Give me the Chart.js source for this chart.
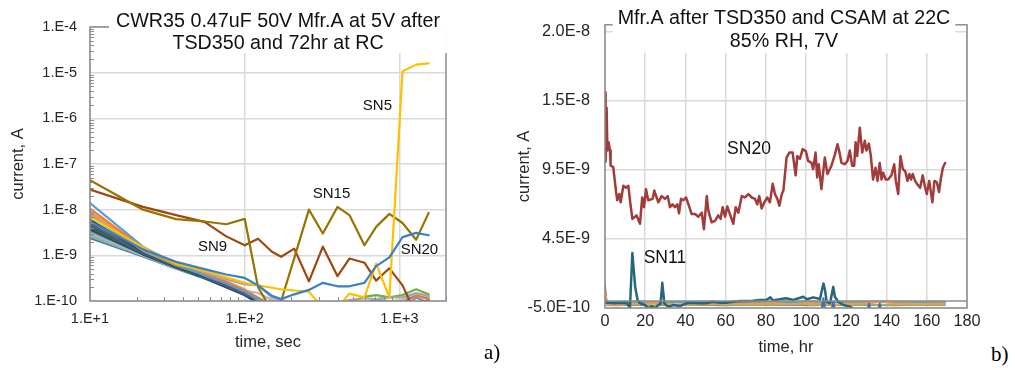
<!DOCTYPE html>
<html>
<head>
<meta charset="utf-8">
<script src="https://cdn.jsdelivr.net/npm/chart.js@4.4.0/dist/chart.umd.min.js"></script>
<style>
  body { margin: 0; background: #fff; }
  #wrap { position: relative; width: 1015px; height: 370px; overflow: hidden; }
  canvas { position: absolute; top: 0; }
  #c1 { left: 0; }
  #c2 { left: 500px; }
  .tag { position: absolute; font: 21px 'Liberation Serif', 'Times New Roman', serif; line-height: 1; color: #000; }
</style>
</head>
<body>
<div id="wrap">
  <canvas id="c1" width="470" height="370"></canvas>
  <canvas id="c2" width="490" height="370"></canvas>
  <div class="tag" style="left:484px; top:342px">a)</div>
  <div class="tag" style="left:991px; top:344px">b)</div>
</div>
<script>
"use strict";

// ---------- a) leakage at 5V, log-log ----------
const tSec = [10, 22, 36, 55, 76, 100, 122, 150, 172, 209, 260, 320, 398, 475, 594, 707, 861, 1047, 1282, 1545];

// anything under 1E-10 is below the axis and gets clipped
const sn5  = [7e-9, 1.5e-9, 6.5e-10, 4.6e-10, 3.3e-10, 2.5e-10, 2.2e-10, 1.95e-10, 1.8e-10, 1.7e-10, 1.6e-10, 7e-11, 7e-11, 1.45e-10, 1.2e-10, 6.6e-10, 1.2e-10, 1.07e-5, 1.5e-5, 1.6e-5];
const sn9  = [2.75e-8, 1.15e-8, 7.6e-9, 5.4e-9, 2.6e-9, 1.66e-9, 2.3e-9, 1.2e-9, 9.3e-10, 1.4e-9, 2.7e-10, 1.55e-9, 3.5e-10, 8.5e-10, 6.9e-10, 2.8e-10, 5.2e-10, 2.2e-10, 5e-11, 5e-11];
const sn15 = [4.4e-8, 1.0e-8, 6.2e-9, 5.5e-9, 4.8e-9, 6.3e-9, 2.0e-10, 6e-11, 1.0e-10, 8.7e-10, 1.0e-8, 3.0e-9, 1.15e-8, 7.6e-9, 1.66e-9, 4.2e-9, 8.1e-9, 5.1e-9, 2.2e-9, 8.5e-9];
const sn20 = [5.5e-9, 1.35e-9, 7.2e-10, 5e-10, 3.8e-10, 3.2e-10, 2.2e-10, 1.3e-10, 1.1e-10, 1.4e-10, 1.75e-10, 2.5e-10, 2.1e-10, 2.1e-10, 2.5e-10, 5.8e-10, 9e-10, 2.5e-9, 3.1e-9, 2.75e-9];

// the unlabelled parts in the bundle
const b1  = [1.4e-8, 1.55e-9, 6.5e-10, 3.6e-10, 2.4e-10, 1.6e-10, 1.1e-10, 8e-11, 6e-11, 6e-11, 6e-11, 6e-11, 6e-11, 6e-11, 6e-11, 6e-11, 6e-11, 6e-11, 6e-11, 6e-11];
const b2  = [1.05e-8, 1.45e-9, 6.2e-10, 3.8e-10, 2.6e-10, 1.7e-10, 1.2e-10, 8e-11, 6e-11, 6e-11, 6e-11, 6e-11, 6e-11, 6e-11, 6e-11, 6e-11, 6e-11, 6e-11, 1.3e-10, 1.1e-10];
const b3  = [9e-9, 1.4e-9, 6.3e-10, 3.9e-10, 2.7e-10, 1.8e-10, 1.15e-10, 7e-11, 6e-11, 6e-11, 6e-11, 6e-11, 6e-11, 6e-11, 6e-11, 6e-11, 6e-11, 6e-11, 6e-11, 6e-11];
const b4  = [8.2e-9, 1.3e-9, 6.3e-10, 4.2e-10, 3e-10, 2.3e-10, 2.2e-10, 1.2e-10, 1.05e-10, 9e-11, 8e-11, 8e-11, 9e-11, 1.05e-10, 1.15e-10, 1.1e-10, 1.2e-10, 1.2e-10, 1.5e-10, 1.3e-10];
const b5  = [7.5e-9, 1.25e-9, 6e-10, 3.7e-10, 2.6e-10, 1.7e-10, 1.05e-10, 6e-11, 6e-11, 6e-11, 6e-11, 7e-11, 8e-11, 9e-11, 1.25e-10, 1.35e-10, 1.2e-10, 1.35e-10, 1.8e-10, 1.4e-10];
const b6  = [6e-9, 1.2e-9, 5.8e-10, 3.5e-10, 2.3e-10, 1.6e-10, 1.1e-10, 7e-11, 6e-11, 6e-11, 6e-11, 6e-11, 6e-11, 6e-11, 6e-11, 6e-11, 6e-11, 6e-11, 9e-11, 1.03e-10];
const b7  = [5e-9, 1.15e-9, 5.8e-10, 3.4e-10, 2.2e-10, 1.5e-10, 1.05e-10, 7e-11, 6e-11, 6e-11, 6e-11, 6e-11, 6e-11, 6e-11, 6e-11, 6e-11, 6e-11, 6e-11, 6e-11, 6e-11];
const b8  = [4.5e-9, 1.1e-9, 5.6e-10, 3.3e-10, 2.1e-10, 1.4e-10, 1.0e-10, 6e-11, 6e-11, 6e-11, 6e-11, 6e-11, 6e-11, 6e-11, 6e-11, 6e-11, 6e-11, 6e-11, 6e-11, 6e-11];
const b9  = [4e-9, 1.1e-9, 5.5e-10, 3.2e-10, 2.1e-10, 1.45e-10, 1.1e-10, 7e-11, 6e-11, 6e-11, 6e-11, 6e-11, 6e-11, 6e-11, 6e-11, 6e-11, 6e-11, 6e-11, 6e-11, 6e-11];
const b10 = [3.7e-9, 1.05e-9, 5.4e-10, 3.2e-10, 2.0e-10, 1.35e-10, 9e-11, 6e-11, 6e-11, 6e-11, 6e-11, 6e-11, 6e-11, 6e-11, 6e-11, 6e-11, 6e-11, 6e-11, 8e-11, 1.02e-10];
const b11 = [3.4e-9, 1.05e-9, 5.4e-10, 3.3e-10, 2.2e-10, 1.5e-10, 1.0e-10, 7e-11, 6e-11, 6e-11, 6e-11, 6e-11, 6e-11, 6e-11, 6e-11, 6e-11, 6e-11, 6e-11, 1.2e-10, 9e-11];
const b12 = [3.1e-9, 1.0e-9, 5.3e-10, 3.3e-10, 2.3e-10, 1.7e-10, 1.5e-10, 1.05e-10, 1.0e-10, 9e-11, 8e-11, 7e-11, 7e-11, 8e-11, 9e-11, 9e-11, 1.0e-10, 1.05e-10, 1.45e-10, 1.25e-10];
const b13 = [2.9e-9, 1.0e-9, 5.2e-10, 3.2e-10, 2.2e-10, 1.5e-10, 1.05e-10, 8e-11, 6e-11, 6e-11, 6e-11, 6e-11, 6e-11, 6e-11, 6e-11, 6e-11, 6e-11, 6e-11, 6e-11, 6e-11];
const b14 = [2.6e-9, 9.8e-10, 5.2e-10, 3.2e-10, 2.1e-10, 1.4e-10, 1.0e-10, 6e-11, 6e-11, 6e-11, 6e-11, 6e-11, 6e-11, 6e-11, 6e-11, 6e-11, 6e-11, 6e-11, 6e-11, 6e-11];
const b15 = [2.4e-9, 9.5e-10, 5.1e-10, 3.1e-10, 2.0e-10, 1.35e-10, 9e-11, 6e-11, 6e-11, 6e-11, 6e-11, 6e-11, 6e-11, 6e-11, 9e-11, 1.05e-10, 1.0e-10, 9e-11, 1.4e-10, 1.15e-10];

const xTicksL  = [10, 100, 1000];
const xLabelsL = ['1.E+1', '1.E+2', '1.E+3'];
const yTicksL  = [1e-10, 1e-9, 1e-8, 1e-7, 1e-6, 1e-5, 1e-4];
const yLabelsL = ['1.E-10', '1.E-9', '1.E-8', '1.E-7', '1.E-6', '1.E-5', '1.E-4'];

// ---------- b) 22C / 85% RH / 7V ----------
const sn20Hr = [0, 0.3, 0.8, 1.2, 1.8, 2.5, 2.8, 4.1, 5.5, 6.1, 7.1, 7.8, 9.1, 10.4, 11.6, 12.4, 13.6, 15.7, 17.4, 18.5,
  19.4, 20.4, 21.5, 23.7, 24.5, 26.5, 28.2, 29.8, 31.2, 32.3, 33.6, 34.8, 36, 36.8, 37.8, 39, 40.3, 41.5, 43.1, 44.8,
  46.4, 48.1, 49.2, 50.6, 51.4, 53, 54.7, 56.3, 57.5, 58.5, 59.7, 60.8, 62.1, 63.8, 65, 66.3, 68, 69.6, 71.3, 72.9,
  74.6, 75.7, 76.7, 77.9, 79.2, 80.7, 82, 83.4, 84.5, 85.7, 86.7, 87.9, 88.7, 90.3, 91.7, 93.3, 94.8, 95.6, 96.9, 98.3,
  99.9, 101, 102.7, 103.5, 104.7, 105.5, 106.3, 107.6, 109.3, 110.6, 112.6, 114.3, 115.6, 116.4, 117.6, 119.2, 120.6, 121.7, 122.9, 123.9,
  124.6, 125.4, 126.7, 127.9, 129.2, 130, 131.2, 132.2, 133.3, 134.5, 135.5, 136.6, 137.5, 138.3, 139.6, 140.8, 142.4, 143.8, 144.6, 145.8,
  146.9, 148.1, 149.3, 150.4, 151.3, 152.2, 153, 154.2, 155.3, 156.7, 158, 159.2, 160, 161.2, 162.8, 163.8, 165, 166.1, 167.1, 168, 169.1];
const sn20nA = [15.1, 10.1, 14.0, 10.9, 11.5, 10.9, 9.8, 9.7, 7.9, 7.3, 7.75, 7.15, 8.35, 8.2, 8.35, 7.3, 5.95, 6.2, 5.6, 7.5,
  6.8, 8.1, 7.3, 7.4, 8.0, 7.15, 7.6, 7.4, 7.6, 6.8, 7.0, 6.8, 7.0, 6.35, 7.4, 7.3, 7.5, 7.0, 6.3, 6.3,
  6.1, 6.4, 5.2, 7.6, 6.55, 5.7, 5.8, 6.2, 5.95, 6.8, 6.1, 6.85, 6.3, 5.6, 6.8, 6.4, 7.6, 7.5, 7.75, 7.5,
  7.4, 7.0, 7.6, 6.7, 7.15, 7.5, 7.15, 8.5, 7.75, 7.4, 6.9, 7.75, 8.0, 10.4, 10.75, 10.75, 9.1, 10.5, 10.3, 11.0,
  10.85, 10.15, 10.0, 9.55, 10.75, 8.95, 9.9, 8.1, 10.4, 9.2, 9.8, 10.6, 11.35, 10.9, 10.0, 9.9, 10.15, 10.9, 9.8, 9.8,
  11.5, 10.5, 12.55, 10.75, 11.6, 10.9, 11.4, 10.5, 8.8, 9.65, 8.7, 10.0, 8.8, 9.3, 8.8, 8.8, 9.1, 9.9, 8.7, 7.75,
  10.5, 9.55, 9.4, 8.7, 9.2, 8.8, 9.2, 8.7, 8.45, 8.2, 9.1, 8.2, 7.75, 8.7, 7.15, 8.7, 8.6, 7.9, 8.95, 9.65, 10.0];

const sn11Hr = [0, 2, 5, 8, 11, 12.4, 13.6, 15, 16.2, 17.4, 19.9, 21.5, 23.2, 24.9, 26.5, 27.6, 28.5, 29.5, 30.6, 32.3,
  33.9, 37.2, 40.5, 43.8, 47.1, 50.4, 53.7, 57, 60.4, 63.7, 67, 70.3, 73.6, 76.9, 80.2, 82.2, 83.5, 86.8, 90.1, 93.6,
  98.6, 100.3, 103.6, 106.9, 108.6, 109.4, 110.2, 111.9, 113.5, 114.3, 116, 118.5, 121.8, 125.1, 127];
const sn11nA = [-0.1, -0.12, -0.15, -0.12, -0.15, -0.52, 3.48, 1.03, 0.08, -0.16, -0.28, -0.52, -0.36, -0.52, -0.28, -0.2, 1.32, -0.16, -0.33, -0.4,
  -0.28, -0.36, -0.16, -0.12, -0.16, -0.16, -0.05, -0.12, -0.12, -0.05, 0, 0, 0.03, 0.08, 0.08, 0.27, 0.05, 0.13, 0.2, 0.08,
  0.31, 0.13, 0.27, 0.15, 1.28, 0.8, -0.05, -0.16, 1.03, 0.31, -0.05, -0.28, -0.4, -0.7, -0.9];

// the other parts stay on the floor
const baseHr   = [0, 1, 6, 12, 18, 24, 30, 36, 42, 48, 54, 60, 66, 72, 78, 84, 90, 96, 102, 108, 114, 120, 126, 132, 138, 144, 150, 156, 162, 168, 169];
const aquaNA   = [0.3, -0.05, -0.08, -0.05, -0.06, -0.1, -0.07, -0.05, -0.08, -0.06, -0.05, -0.07, -0.05, -0.08, -0.04, -0.06, -0.05, -0.07, -0.04, -0.06, -0.08, -0.05, -0.06, -0.05, -0.07, -0.05, -0.06, -0.08, -0.05, -0.06, -0.07];
const orangeNA = [0.8, -0.2, -0.25, -0.18, -0.22, -0.15, -0.2, -0.25, -0.18, -0.22, -0.2, -0.15, -0.22, -0.18, -0.2, -0.15, -0.22, -0.2, -0.15, -0.2, -0.25, -0.18, -0.2, -0.15, 0.0, -0.2, -0.18, -0.22, -0.2, -0.18, -0.2];
const purpleNA = [1.3, -0.3, -0.32, -0.28, -0.3, -0.33, -0.29, -0.3, -0.31, -0.28, -0.3, -0.32, -0.3, -0.29, -0.31, -0.3, -0.28, -0.3, -0.32, -0.3, -0.29, -0.31, -0.3, -0.28, -0.3, -0.32, -0.3, -0.29, -0.31, -0.3, -0.3];
const greenNA  = [0.5, -0.27, -0.3, -0.25, -0.28, -0.3, -0.26, -0.28, -0.3, -0.27, -0.25, -0.29, -0.27, -0.3, -0.26, -0.28, -0.27, -0.25, -0.29, -0.28, -0.3, -0.26, -0.28, -0.27, -0.29, -0.26, -0.28, -0.3, -0.27, -0.28, -0.27];
const spikeHr  = [0, 107.6, 108.6, 109.6, 112.5, 113.5, 114.5, 130.3, 131.3, 132.3, 135.6, 136.6, 137.6, 170];
const spikeNA  = [-0.8, -0.8, 0.2, -0.8, -0.8, -0.05, -0.8, -0.8, -0.2, -0.8, -0.8, -0.2, -0.8, -0.8];

const yTicksR  = [-5e-10, 4.5e-9, 9.5e-9, 1.45e-8, 1.95e-8];
const yLabelsR = ['-5.0E-10', '4.5E-9', '9.5E-9', '1.5E-8', '2.0E-8'];

const FONT = "'Liberation Sans', Arial, sans-serif";
Chart.defaults.color = '#262626';
Chart.defaults.font.family = FONT;

function pts(xs, ys, k) {
  return xs.map((x, i) => ({ x: x, y: ys[i] * (k || 1) }));
}

function line(data, color, w) {
  return {
    data: data, borderColor: color, borderWidth: w, pointRadius: 0, tension: 0,
    showLine: true, clip: 0, borderJoinStyle: 'round', borderCapStyle: 'round'
  };
}

// frame, minor log ticks, zero line, title on a white box and series tags
function decor(cfg) {
  return {
    id: 'decor',
    afterDraw(chart) {
      const ctx = chart.ctx, a = chart.chartArea, sx = chart.scales.x, sy = chart.scales.y;
      ctx.save();
      ctx.strokeStyle = '#8c8c8c';
      ctx.lineWidth = 1;
      if (cfg.minor) {
        ctx.beginPath();
        for (let e = -10; e < -4; e++) {
          for (let m = 2; m < 10; m++) {
            const py = Math.round(sy.getPixelForValue(m * Math.pow(10, e))) + 0.5;
            ctx.moveTo(a.left, py); ctx.lineTo(a.left + 4, py);
          }
        }
        for (let e = 1; e < 4; e++) {
          for (let m = 2; m < 10; m++) {
            const v = m * Math.pow(10, e);
            if (v > sx.max) break;
            const px = Math.round(sx.getPixelForValue(v)) + 0.5;
            ctx.moveTo(px, a.bottom); ctx.lineTo(px, a.bottom - 4);
          }
        }
        ctx.stroke();
      }
      ctx.lineWidth = 1.5;
      if (cfg.zero) {
        const pz = Math.round(sy.getPixelForValue(0));
        ctx.beginPath(); ctx.moveTo(a.left, pz); ctx.lineTo(a.right, pz); ctx.stroke();
      }
      ctx.strokeRect(a.left, a.top, a.right - a.left, a.bottom - a.top);

      const t = cfg.title;
      ctx.font = t.font;
      const w = Math.max.apply(null, t.lines.map(s => ctx.measureText(s).width));
      ctx.fillStyle = '#fff';
      ctx.fillRect(t.cx - w / 2 - t.pad, 0, w + 2 * t.pad, t.bottom);
      ctx.fillStyle = '#111';
      ctx.textAlign = 'center';
      ctx.textBaseline = 'alphabetic';
      t.lines.forEach((s, i) => ctx.fillText(s, t.cx, t.base[i]));

      ctx.font = cfg.tagFont;
      ctx.textBaseline = 'middle';
      cfg.tags.forEach(g => ctx.fillText(g.text, sx.getPixelForValue(g.x), sy.getPixelForValue(g.y)));
      ctx.restore();
    }
  };
}

// ---- chart a ----
const bundle = [
  [b1, '#5B9BD5'], [b2, '#ED7D31'], [b3, '#F1975A'], [b4, '#A5A5A5'], [b5, '#70AD47'],
  [b6, '#264478'], [b7, '#636363'], [b8, '#255E91'], [b9, '#43682B'], [b10, '#333F50'],
  [b11, '#698ED0'], [b12, '#B7B7B7'], [b13, '#7CAFDD'], [b14, '#8CC168'], [b15, '#4472C4']
];
const dsA = [
  line(pts(tSec, sn20), '#3B7FC6', 2.2),
  line(pts(tSec, sn5), '#FFC000', 2.2),
  line(pts(tSec, sn15), '#997300', 2.2),
  line(pts(tSec, sn9), '#9E480E', 2.2)
].concat(bundle.map(b => line(pts(tSec, b[0]), b[1], 2.2)));

new Chart(document.getElementById('c1'), {
  type: 'scatter',
  data: { datasets: dsA },
  options: {
    responsive: false, animation: false, events: [],
    layout: { padding: { left: 0, right: 24, top: 27, bottom: 0 } },
    plugins: { legend: { display: false }, tooltip: { enabled: false } },
    scales: {
      x: {
        type: 'logarithmic', min: 10, max: 2000,
        afterBuildTicks: s => { s.ticks = xTicksL.map(v => ({ value: v })); },
        afterFit: s => { s.height = 69; },
        ticks: { autoSkip: false, maxRotation: 0, padding: 9, font: { size: 14.5 }, callback: (v, i) => xLabelsL[i] },
        grid: { color: '#d9d9d9', lineWidth: 1.5, drawTicks: false },
        border: { display: false },
        title: { display: true, text: 'time, sec', font: { size: 16.5 }, padding: { top: 0, bottom: 18 } }
      },
      y: {
        type: 'logarithmic', min: 1e-10, max: 1e-4,
        afterBuildTicks: s => { s.ticks = yTicksL.map(v => ({ value: v })); },
        afterFit: s => { s.width = 90; },
        ticks: { autoSkip: false, padding: 13, font: { size: 14.5 }, callback: (v, i) => yLabelsL[i] },
        grid: { color: '#d9d9d9', lineWidth: 1.5, drawTicks: false },
        border: { display: false },
        title: { display: true, text: 'current, A', font: { size: 16.5 }, padding: { top: 9, bottom: 0 } }
      }
    }
  },
  plugins: [decor({
    minor: true,
    title: { lines: ['CWR35 0.47uF 50V Mfr.A at 5V after', 'TSD350 and 72hr at RC'], font: '19.7px ' + FONT,
      cx: 278, base: [27, 49], pad: 7, bottom: 53 },
    tagFont: '15px ' + FONT,
    tags: [
      { text: 'SN5', x: 721, y: 1.9e-6 },
      { text: 'SN15', x: 364, y: 2.27e-8 },
      { text: 'SN9', x: 62, y: 1.5e-9 },
      { text: 'SN20', x: 1346, y: 1.3e-9 }
    ]
  })]
});

// ---- chart b ----
const dsB = [
  line(pts(sn11Hr, sn11nA, 1e-9), '#26677B', 2.5),
  line(pts(sn20Hr, sn20nA, 1e-9), '#A23C3A', 2.5),
  line(pts(spikeHr, spikeNA, 1e-9), '#3F6FAF', 2.2),
  line(pts(baseHr, orangeNA, 1e-9), '#F79646', 2.2),
  line(pts(baseHr, aquaNA, 1e-9), '#4BACC6', 2.2),
  line(pts(baseHr, greenNA, 1e-9), '#9BBB59', 1.5),
  line(pts(baseHr, purpleNA, 1e-9), '#8064A2', 1.5)
];

new Chart(document.getElementById('c2'), {
  type: 'scatter',
  data: { datasets: dsB },
  options: {
    responsive: false, animation: false, events: [],
    layout: { padding: { left: 0, right: 23, top: 23, bottom: 0 } },
    plugins: { legend: { display: false }, tooltip: { enabled: false } },
    scales: {
      x: {
        type: 'linear', min: 0, max: 180,
        afterFit: s => { s.height = 62; },
        ticks: { stepSize: 20, autoSkip: false, maxRotation: 0, padding: 4, font: { size: 16.3 } },
        grid: { color: '#d9d9d9', lineWidth: 1.5, drawTicks: false },
        border: { display: false },
        title: { display: true, text: 'time, hr', font: { size: 16.5 }, padding: { top: 0, bottom: 13 } }
      },
      y: {
        type: 'linear', min: -5e-10, max: 2e-8,
        afterBuildTicks: s => { s.ticks = yTicksR.map(v => ({ value: v })); },
        afterFit: s => { s.width = 105; },
        ticks: { autoSkip: false, padding: 15, font: { size: 16.3 }, callback: (v, i) => yLabelsR[i] },
        grid: { color: '#d9d9d9', lineWidth: 1.5, drawTicks: false },
        border: { display: false },
        title: { display: true, text: 'current, A', font: { size: 16.5 }, padding: { top: 15, bottom: 0 } }
      }
    }
  },
  plugins: [decor({
    zero: true,
    title: { lines: ['Mfr.A after TSD350 and CSAM at 22C', '85% RH, 7V'], font: '19.7px ' + FONT,
      cx: 284, base: [24, 47], pad: 5, bottom: 53 },
    tagFont: '17.5px ' + FONT,
    tags: [
      { text: 'SN20', x: 71.6, y: 1.1e-8 },
      { text: 'SN11', x: 29.8, y: 3.1e-9 }
    ]
  })]
});
</script>
</body>
</html>
